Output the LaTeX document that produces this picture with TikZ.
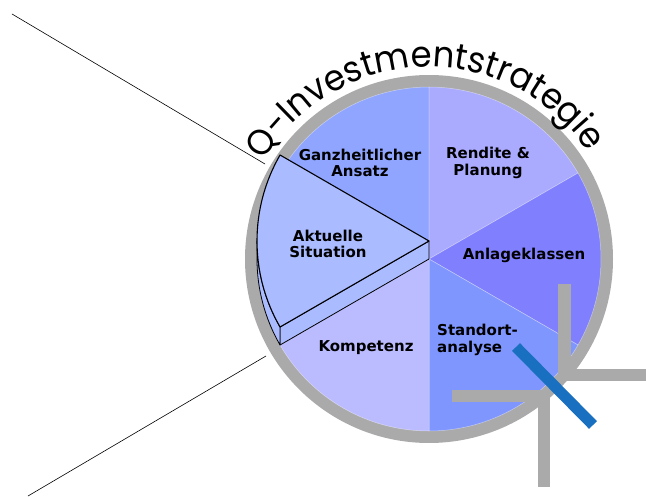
\documentclass[tikz,border=0pt]{standalone}
\usepackage{fontspec}
\setmainfont{DejaVu Sans}
\newfontfamily\titlefont{Poppins}[FakeStretch=0.94]
\usetikzlibrary{calc,decorations.text}

\definecolor{ringgray}{RGB}{170,170,170}
\definecolor{secGanz}{RGB}{144,165,255}
\definecolor{secRendite}{RGB}{170,170,255}
\definecolor{secAnlage}{RGB}{128,128,255}
\definecolor{secStandort}{RGB}{128,150,255}
\definecolor{secKomp}{RGB}{187,187,255}
\definecolor{secAktuell}{RGB}{170,187,255}
\definecolor{barblue}{RGB}{26,112,192}

\tikzset{
  sector/.style={draw=white, draw opacity=0.45, line width=0.5pt},
  wedgeedge/.style={draw=black, line width=1.1pt, line join=round},
  sideedge/.style={draw=black, line width=0.8pt, line join=round},
  lbl/.style={font=\fontsize{15}{16.5}\selectfont\bfseries, align=center, inner sep=0pt},
  guide/.style={draw=black, line width=0.6pt},
  compress/.style={draw=ringgray, line width=12.5pt, line join=miter, line cap=butt},
}

\begin{document}
\begin{tikzpicture}[x=1pt, y=1pt]
  \useasboundingbox (0,0) rectangle (646,-497);

  % centres of the pie and of the lifted slice
  \coordinate (C)  at (429,-259);
  \coordinate (Cu) at (429,-241);
  \def\R{172}

  % grey ring
  \fill[ringgray] (C) circle[radius=184];

  % pie sectors
  \path[sector, fill=secGanz]     (C) -- ($(C)+(90:\R)$)  arc[start angle=90,  end angle=150, radius=\R] -- cycle;
  \path[sector, fill=secRendite]  (C) -- ($(C)+(30:\R)$)  arc[start angle=30,  end angle=90,  radius=\R] -- cycle;
  \path[sector, fill=secAnlage]   (C) -- ($(C)+(-30:\R)$) arc[start angle=-30, end angle=30,  radius=\R] -- cycle;
  \path[sector, fill=secStandort] (C) -- ($(C)+(-90:\R)$) arc[start angle=-90, end angle=-30, radius=\R] -- cycle;
  \path[sector, fill=secKomp]     (C) -- ($(C)+(210:\R)$) arc[start angle=210, end angle=270, radius=\R] -- cycle;

  % guide lines towards the left
  \coordinate (g1a) at (12,-14);
  \coordinate (g1b) at (265,-164);
  \coordinate (g2a) at (28,-496);
  \coordinate (g2b) at (266,-356);
  \draw[guide] (g1a) -- (g1b);
  \draw[guide] (g2a) -- (g2b);

  % lifted slice: side faces
  \path[sideedge, fill=secAktuell]
    ($(Cu)+(210:\R)$) -- (Cu) -- (C) -- ($(C)+(210:\R)$) -- cycle;
  \path[sideedge, fill=secAktuell]
    ($(Cu)+(180:\R)$) arc[start angle=180, end angle=210, radius=\R]
    -- ($(C)+(210:\R)$) arc[start angle=210, end angle=180, radius=\R] -- cycle;
  % lifted slice: top face
  \path[wedgeedge, fill=secAktuell]
    (Cu) -- ($(Cu)+(150:\R)$) arc[start angle=150, end angle=210, radius=\R] -- cycle;

  % sector labels
  \node[lbl] (ganz)  at (360,-163) {Ganzheitlicher\\Ansatz};
  \node[lbl] (rend)  at (488,-163) {Rendite \&\\Planung};
  \node[lbl] (akt)   at (328,-244) {Aktuelle\\Situation};
  \node[lbl] (anl)   at (524,-255) {Anlageklassen};
  \node[lbl, align=left, anchor=west] (stand) at (437,-340) {Standort-\\analyse};
  \node[lbl] (komp)  at (366,-348) {Kompetenz};

  % compress symbol
  \coordinate (t1) at (564.5,-284);
  \coordinate (t2) at (564.5,-375);
  \coordinate (t3) at (646,-375);
  \coordinate (b1) at (452,-396);
  \coordinate (b2) at (544,-396);
  \coordinate (b3) at (544,-487);
  \draw[compress] (t1) -- (t2) -- (t3);
  \draw[compress] (b1) -- (b2) -- (b3);
  \coordinate (s1) at (516,-347);
  \coordinate (s2) at (593,-425);
  \draw[barblue, line width=11pt] (s1) -- (s2);

  % title along the rim
  \path[decorate, decoration={text along path, text align=center,
        text={|\titlefont\fontsize{36}{36}\selectfont|Q-Investmentstrategie}}]
    ($(C)+(171.5:192)$) arc[start angle=171.5, end angle=11.5, radius=192];
\end{tikzpicture}
\end{document}
